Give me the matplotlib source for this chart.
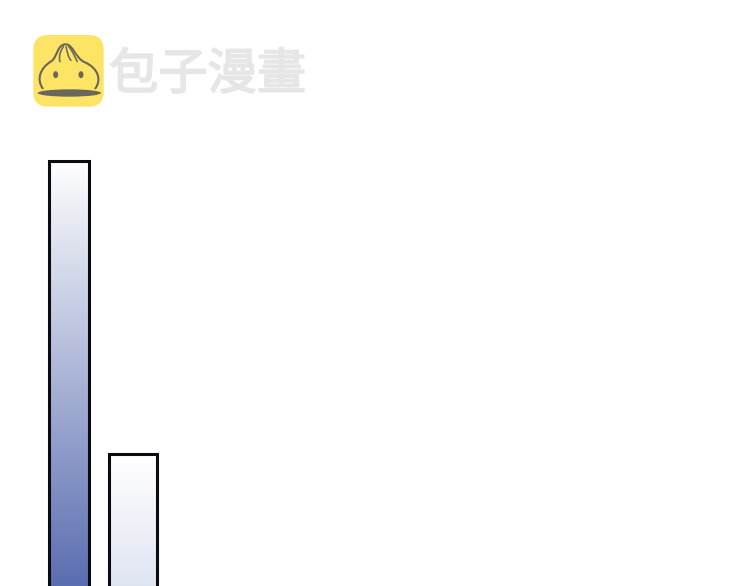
import numpy as np
import matplotlib
matplotlib.use("Agg")
import matplotlib.pyplot as plt
import matplotlib.patheffects as pe
from matplotlib.patches import FancyBboxPatch, Ellipse, PathPatch
from matplotlib.path import Path
from matplotlib.colors import LinearSegmentedColormap

# data
bar_lefts = [49.0, 108.5]
bar_widths = [39.5, 48.5]
bar_tops = [425, 132]          # height above the lower edge of the picture
bar_bottom_colors = ["#5a6db0", "#e0e5f2"]
logo_text = "包子漫畫"

fig = plt.figure(figsize=(7.5, 5.86), dpi=100, facecolor="white")
ax = fig.add_axes([0, 0, 1, 1])
ax.set_xlim(0, 750)
ax.set_ylim(0, 586)
ax.axis("off")

BELOW = 10
for left, w, top, col in zip(bar_lefts, bar_widths, bar_tops, bar_bottom_colors):
    ax.bar(left, top + BELOW, width=w, bottom=-BELOW, align="edge",
           facecolor="none", edgecolor="#0b0b12", linewidth=2.2, zorder=3)
    cmap = LinearSegmentedColormap.from_list("g", ["#ffffff", col])
    grad = np.linspace(0, 1, 256).reshape(-1, 1)
    ax.imshow(grad, cmap=cmap, aspect="auto", origin="upper",
              extent=(left, left + w, 0, top), zorder=2)
ax.set_xlim(0, 750)
ax.set_ylim(0, 586)


def p(x, y):
    return (20 + x / 3, 586 - (25 + y / 3))


# logo tile
x0, y0 = p(40, 245)
x1, y1 = p(251, 30)
pad = 15
ax.add_patch(FancyBboxPatch((x0 + pad, y0 + pad), x1 - x0 - 2 * pad, y1 - y0 - 2 * pad,
                            boxstyle=f"round,pad={pad},rounding_size=15",
                            facecolor="#fde465", edgecolor="none", zorder=4))

# bun outline
C4, M, L = Path.CURVE4, Path.MOVETO, Path.LINETO
dark = "#6a675a"
outline = [p(68, 190), p(50, 165), p(58, 130), p(95, 108),
           p(112, 95), p(112, 58), p(137, 58),
           p(160, 58), p(165, 100), p(195, 112),
           p(235, 130), p(245, 165), p(226, 190)]
codes = [M] + [C4] * 12
ax.add_patch(PathPatch(Path(outline, codes), facecolor="none", edgecolor=dark,
                       linewidth=1.5, capstyle="round", zorder=5))
for pleat in ([p(130, 65), p(120, 80), p(116, 95), p(120, 110)],
              [p(138, 65), p(142, 80), p(143, 95), p(153, 106)],
              [p(146, 65), p(158, 78), p(162, 92), p(172, 110)]):
    ax.add_patch(PathPatch(Path(pleat, [M, C4, C4, C4]), facecolor="none",
                           edgecolor=dark, linewidth=1.1, capstyle="round", zorder=5))
ax.add_patch(Ellipse(p(148, 204), 190 / 3, 22 / 3, facecolor=dark, edgecolor="none", zorder=5))
for ex in (107, 183):
    ax.add_patch(Ellipse(p(ex, 149), 15 / 3, 21 / 3, facecolor=dark, edgecolor="none", zorder=5))

# logo lettering
ax.text(109, 586 - 75, logo_text, family=["Noto Sans CJK TC", "DejaVu Sans"],
        fontsize=35.5, color="#e6e6e6", ha="left", va="center", zorder=4,
        path_effects=[pe.withStroke(linewidth=1.3, foreground="#e6e6e6")])

fig.savefig("out.png", dpi=100)
